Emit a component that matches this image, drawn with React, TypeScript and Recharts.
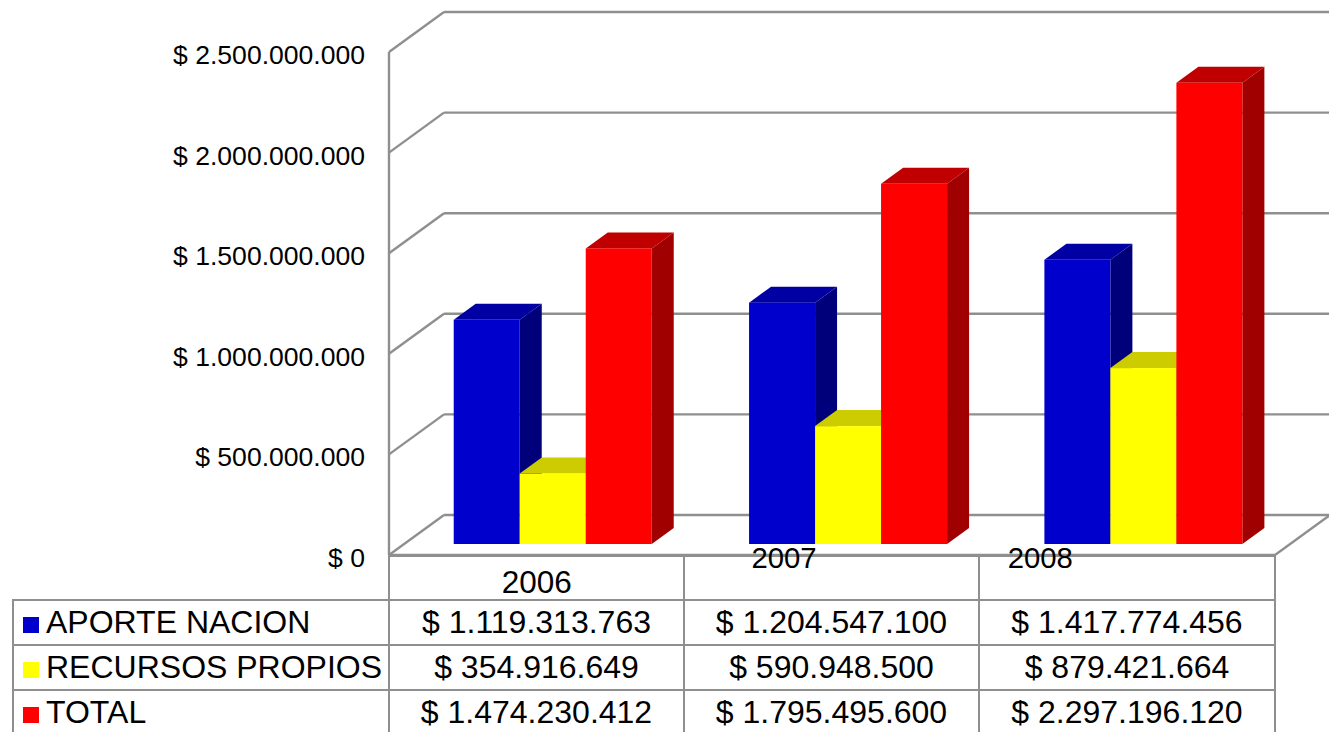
import React from 'react';
import { BarChart, Bar, XAxis, YAxis, CartesianGrid } from 'recharts';

const years = ['2006', '2007', '2008'];
const aporteNacion = [1119313763, 1204547100, 1417774456];
const recursosPropios = [354916649, 590948500, 879421664];
const total = [1474230412, 1795495600, 2297196120];
const yTicks = [0, 500000000, 1000000000, 1500000000, 2000000000, 2500000000];

const data = years.map((year, i) => ({
  year,
  aporte: aporteNacion[i],
  recursos: recursosPropios[i],
  total: total[i],
}));

const rows = [
  { label: 'APORTE NACION', color: '#0000cc', values: aporteNacion },
  { label: 'RECURSOS PROPIOS', color: '#ffff00', values: recursosPropios },
  { label: 'TOTAL', color: '#ff0000', values: total },
];

const FONT = '"Liberation Sans", Arial, sans-serif';
const GRID = '#8f8f8f';
const LINE = 2.4;
const W = 1329;
const H = 732;
const PLOT_BOTTOM = 555;
// depth of the fake 3d box
const WALL_DX = 55;
const WALL_DY = 40;
const BAR_DX = 22;
const BAR_DY = 16;

const money = (v: number) =>
  '$ ' + String(v).replace(/\B(?=(\d{3})+(?!\d))/g, '.');

function WallLine(props: any) {
  const { x1, y1, x2 } = props;
  const isFloor = Math.abs(y1 - PLOT_BOTTOM) < 1;
  return (
    <g stroke={GRID} strokeWidth={LINE} fill="none">
      <line x1={x1} y1={y1} x2={x1 + WALL_DX} y2={y1 - WALL_DY} />
      <line x1={x1 + WALL_DX} y1={y1 - WALL_DY} x2={W} y2={y1 - WALL_DY} />
      {isFloor && <line x1={x2} y1={y1} x2={x2 + WALL_DX} y2={y1 - WALL_DY} />}
    </g>
  );
}

function box3d(front: string, top: string, side: string) {
  return function Box(props: any) {
    const w = props.width;
    const h = props.height - 1;
    // bars stand in the middle of the floor, not on its front edge
    const x = props.x + 16;
    const y = props.y - 10;
    return (
      <g>
        <polygon
          fill={side}
          points={`${x + w},${y} ${x + w + BAR_DX},${y - BAR_DY} ${x + w + BAR_DX},${y + h - BAR_DY} ${x + w},${y + h}`}
        />
        <polygon
          fill={top}
          points={`${x},${y} ${x + BAR_DX},${y - BAR_DY} ${x + w + BAR_DX},${y - BAR_DY} ${x + w},${y}`}
        />
        <rect x={x} y={y} width={w} height={h} fill={front} />
      </g>
    );
  };
}

function YTick(props: any) {
  return (
    <text x={365} y={props.y + 12} textAnchor="end" fontSize={26.55} fontFamily={FONT} fill="#000">
      {money(props.payload.value)}
    </text>
  );
}

// the year labels sit unevenly in the original
const yearOffsets = [
  { dx: 0, y: 593, size: 31.5 },
  { dx: -48, y: 568, size: 29.3 },
  { dx: -87, y: 568, size: 29.3 },
];

function YearTick(props: any) {
  const off = yearOffsets[props.index];
  return (
    <text x={props.x + off.dx} y={off.y} textAnchor="middle" fontSize={off.size} fontFamily={FONT} fill="#000">
      {props.payload.value}
    </text>
  );
}

const cell: React.CSSProperties = {
  border: `2px solid ${GRID}`,
  padding: 0,
  textAlign: 'center',
  overflow: 'hidden',
  whiteSpace: 'nowrap',
};

function DataTable() {
  return (
    <table
      style={{
        position: 'absolute',
        left: 12,
        top: 555,
        width: 1262,
        tableLayout: 'fixed',
        borderCollapse: 'collapse',
        fontFamily: FONT,
        fontSize: 32,
        color: '#000',
      }}
    >
      <colgroup>
        <col style={{ width: 376 }} />
        <col style={{ width: 295 }} />
        <col style={{ width: 295 }} />
        <col style={{ width: 296 }} />
      </colgroup>
      <tbody>
        <tr style={{ height: 44 }}>
          <td style={{ padding: 0, borderRight: `2px solid ${GRID}` }} />
          {years.map((y) => (
            <td key={y} style={cell} />
          ))}
        </tr>
        {rows.map((r) => (
          <tr key={r.label} style={{ height: 45 }}>
            <td style={{ ...cell, textAlign: 'left' }}>
              <span
                style={{
                  display: 'inline-block',
                  width: 16,
                  height: 16,
                  marginLeft: 9,
                  marginRight: 7,
                  background: r.color,
                }}
              />
              {r.label}
            </td>
            {r.values.map((v, i) => (
              <td key={i} style={cell}>
                {money(v)}
              </td>
            ))}
          </tr>
        ))}
      </tbody>
    </table>
  );
}

export default function App() {
  return (
    <div style={{ position: 'absolute', left: 0, top: 0, width: W, height: H, overflow: 'hidden', background: '#fff' }}>
      <DataTable />
      <div style={{ position: 'absolute', left: 0, top: 0 }}>
        <BarChart
          width={W}
          height={H}
          data={data}
          margin={{ top: 52, right: 54, bottom: 0, left: 0 }}
          barCategoryGap="16.5%"
          barGap={0}
        >
          <CartesianGrid vertical={false} horizontal={WallLine as any} />
          <XAxis
            dataKey="year"
            height={H - PLOT_BOTTOM}
            interval={0}
            tickLine={false}
            axisLine={{ stroke: GRID, strokeWidth: LINE }}
            tick={YearTick as any}
          />
          <YAxis
            width={389}
            domain={[0, 2500000000]}
            ticks={yTicks}
            tickLine={false}
            axisLine={{ stroke: GRID, strokeWidth: LINE }}
            tick={YTick as any}
          />
          <Bar dataKey="aporte" isAnimationActive={false} shape={box3d('#0000cc', '#0000a3', '#00007a') as any} />
          <Bar dataKey="recursos" isAnimationActive={false} shape={box3d('#ffff00', '#cccc00', '#999900') as any} />
          <Bar dataKey="total" isAnimationActive={false} shape={box3d('#ff0000', '#c00000', '#a00000') as any} />
        </BarChart>
      </div>
    </div>
  );
}
